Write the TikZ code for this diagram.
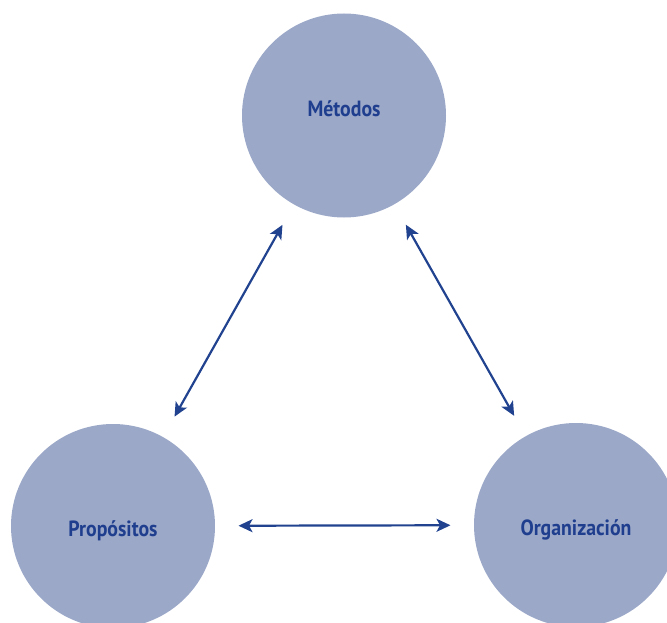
\documentclass[tikz,border=0pt]{standalone}
\usepackage{fontspec}
\setmainfont{PT Sans}
\usetikzlibrary{arrows.meta}
\definecolor{discfill}{HTML}{9BA8C8}
\definecolor{inkblue}{HTML}{1F3E8E}
\definecolor{arrowblue}{HTML}{21438F}
\tikzset{
  disc/.style={circle, fill=discfill, minimum size=204pt, inner sep=0pt, outer sep=0pt},
  caption/.style={anchor=base, inner sep=0pt,
    font=\fontsize{22}{24}\selectfont\bfseries, text=inkblue},
  link/.style={draw=arrowblue, line width=2.2pt,
    {Stealth[length=14pt,width=13pt,inset=3.5pt]}-{Stealth[length=14pt,width=13pt,inset=3.5pt]},
    shorten <=23.5pt, shorten >=23.5pt}
}
\newcommand{\narrowlabel}[1]{\scalebox{0.9}[1]{#1}}
\begin{document}
\begin{tikzpicture}[x=1pt,y=-1pt]
  \useasboundingbox (0,0) rectangle (667,623);
  % the three circles
  \node[disc] (met) at (344,115.5) {};
  \node[disc] (pro) at (113,526) {};
  \node[disc] (org) at (576,525) {};
  % their captions, placed on the baseline
  \node[caption] (metT) at ([yshift=-1.5pt]met.center) {\narrowlabel{Métodos}};
  \node[caption] (proT) at ([yshift=-10pt]pro.center) {\narrowlabel{Propósitos}};
  \node[caption] (orgT) at ([yshift=-10.5pt]org.center) {\narrowlabel{Organización}};
  % two-headed links
  \draw[link] (met) -- (pro);
  \draw[link] (met) -- (org);
  \draw[link] (pro) -- (org);
\end{tikzpicture}
\end{document}
